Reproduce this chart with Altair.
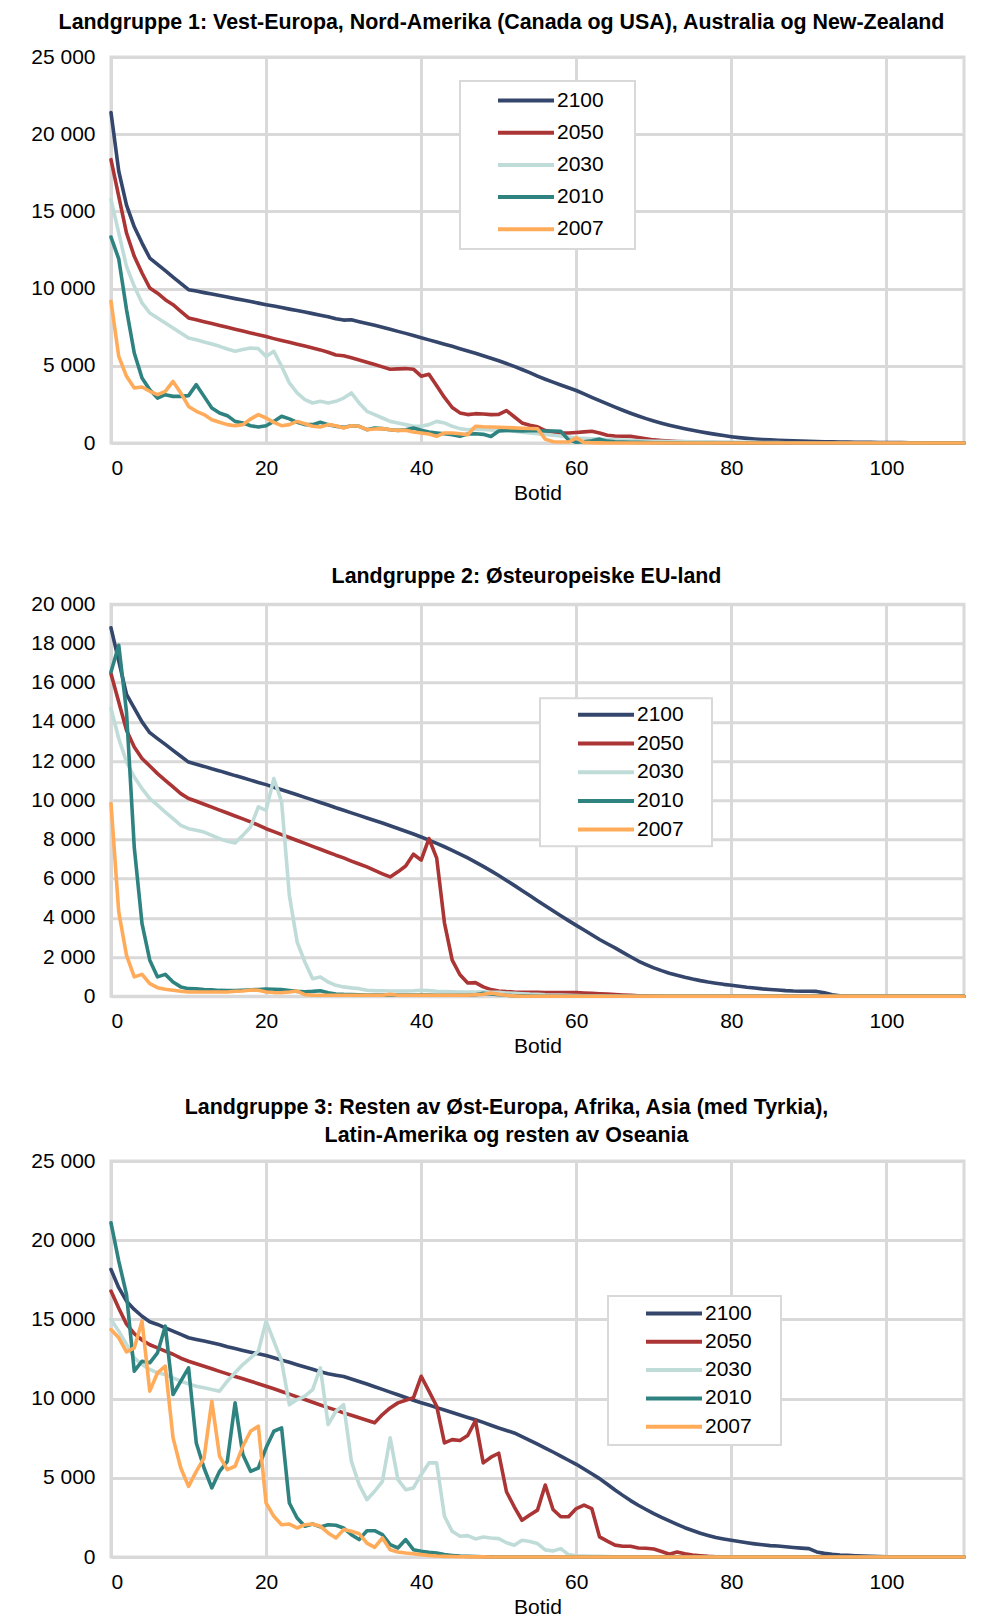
import altair as alt
import pandas as pd

FONT = "Liberation Sans"
SERIES = ["2100", "2050", "2030", "2010", "2007"]
COLORS = ["#34466b", "#ab3535", "#c0dcd9", "#2e8380", "#ffab5a"]
BOTID = list(range(0, 111))

# ---------------- Landgruppe 1 ----------------
p1_2100 = [21400, 17600, 15400, 14000, 12950, 11980, 11570, 11160, 10750, 10340,
           9930, 9840, 9740, 9650, 9550, 9450, 9350, 9260, 9160, 9060,
           8960, 8870, 8770, 8670, 8580, 8480, 8380, 8280, 8180, 8050,
           7960, 7980, 7860, 7740, 7620, 7490, 7360, 7230, 7100, 6960,
           6820, 6680, 6540, 6400, 6260, 6110, 5960, 5810, 5650, 5490,
           5330, 5150, 4960, 4760, 4560, 4330, 4130, 3940, 3760, 3580,
           3400, 3180, 2960, 2740, 2530, 2320, 2120, 1930, 1750, 1580,
           1420, 1280, 1150, 1030, 920, 820, 730, 640, 560, 480,
           410, 350, 300, 260, 230, 200, 180, 160, 140, 120,
           105, 95, 85, 75, 65, 58, 52, 46, 40, 36,
           32, 28, 24, 20, 16, 12, 10, 8, 6, 4, 2]
p1_2050 = [18350, 15980, 13600, 12090, 11010, 10040, 9700, 9280, 8960, 8530,
           8100, 7980, 7860, 7740, 7610, 7490, 7370, 7250, 7130, 7010,
           6890, 6760, 6640, 6520, 6400, 6280, 6160, 6030, 5880, 5700,
           5650, 5520, 5380, 5230, 5080, 4930, 4780, 4800, 4820, 4780,
           4330, 4450, 3700, 2950, 2300, 1950, 1840, 1900, 1880, 1840,
           1850, 2100, 1700, 1300, 1150, 1050, 800, 720, 650, 650,
           680, 720, 760, 650, 500, 450, 440, 430, 360, 280,
           200, 160, 130, 100, 80, 60, 50, 40, 30, 20,
           15, 10, 8, 6, 4, 2, 0, 0, 0, 0,
           0, 0, 0, 0, 0, 0, 0, 0, 0, 0,
           0, 0, 0, 0, 0, 0, 0, 0, 0, 0, 0]
p1_2030 = [15760, 13600, 11440, 10150, 9070, 8420, 8100, 7770, 7450, 7120,
           6800, 6690, 6540, 6410, 6260, 6090, 5940, 6050, 6150, 6110,
           5610, 5940, 4970, 3890, 3240, 2810, 2590, 2700, 2590, 2700,
           2910, 3240, 2590, 2050, 1840, 1620, 1400, 1300, 1190, 1080,
           1080, 1190, 1400, 1300, 1080, 930, 860, 900, 880, 850,
           820, 800, 760, 700, 650, 600, 560, 500, 450, 380,
           320, 300, 280, 250, 230, 210, 190, 170, 150, 130,
           110, 105, 100, 95, 90, 80, 75, 70, 65, 60,
           55, 50, 45, 40, 35, 30, 25, 20, 15, 10,
           5, 0, 0, 0, 0, 0, 0, 0, 0, 0,
           0, 0, 0, 0, 0, 0, 0, 0, 0, 0, 0]
p1_2010 = [13340, 11920, 8640, 5830, 4210, 3450, 2910, 3130, 3020, 3020,
           3070, 3780, 3020, 2270, 1940, 1770, 1400, 1300, 1120, 1040,
           1120, 1400, 1730, 1560, 1340, 1190, 1190, 1340, 1190, 1080,
           1010, 1120, 1080, 860, 970, 930, 860, 820, 860, 970,
           820, 710, 650, 600, 540, 430, 580, 600, 560, 420,
           780, 820, 800, 780, 800, 790, 780, 780, 760, 200,
           50, 80, 150, 250, 120, 80, 60, 50, 40, 30,
           20, 15, 10, 5, 0, 0, 0, 0, 0, 0,
           0, 0, 0, 0, 0, 0, 0, 0, 0, 0,
           0, 0, 0, 0, 0, 0, 0, 0, 0, 0,
           0, 0, 0, 0, 0, 0, 0, 0, 0, 0, 0]
p1_2007 = [9180, 5610, 4320, 3560, 3630, 3350, 3130, 3350, 3990, 3240,
           2370, 2050, 1840, 1510, 1340, 1190, 1120, 1190, 1550, 1840,
           1620, 1340, 1120, 1190, 1400, 1250, 1080, 1040, 1190, 1120,
           970, 1120, 1080, 860, 910, 930, 860, 820, 820, 710,
           650, 580, 430, 650, 650, 600, 540, 1080, 1050, 1040,
           1020, 1000, 980, 960, 940, 920, 250, 80, 60, 60,
           330, 40, 20, 10, 0, 0, 0, 0, 0, 0,
           0, 0, 0, 0, 0, 0, 0, 0, 0, 0,
           0, 0, 0, 0, 0, 0, 0, 0, 0, 0,
           0, 0, 0, 0, 0, 0, 0, 0, 0, 0,
           0, 0, 0, 0, 0, 0, 0, 0, 0, 0, 0]

# ---------------- Landgruppe 2 ----------------
p2_2100 = [18800, 17100, 15400, 14700, 14000, 13450, 13150, 12850, 12550, 12250,
           11950, 11840, 11730, 11610, 11500, 11380, 11260, 11150, 11030, 10910,
           10800, 10670, 10540, 10410, 10280, 10150, 10020, 9890, 9760, 9620,
           9490, 9360, 9230, 9100, 8970, 8840, 8700, 8560, 8420, 8280,
           8130, 7970, 7800, 7630, 7450, 7260, 7060, 6850, 6630, 6400,
           6160, 5910, 5660, 5400, 5140, 4880, 4620, 4360, 4110, 3860,
           3620, 3380, 3140, 2900, 2680, 2470, 2240, 2020, 1800, 1620,
           1450, 1310, 1180, 1070, 970, 880, 800, 730, 670, 610,
           560, 510, 460, 420, 380, 350, 320, 290, 270, 260,
           255, 250, 180, 80, 30, 10, 0, 0, 0, 0,
           0, 0, 0, 0, 0, 0, 0, 0, 0, 0, 0]
p2_2050 = [16460, 15020, 13570, 12720, 12130, 11750, 11360, 11020, 10680, 10340,
           10090, 9950, 9800, 9650, 9500, 9350, 9200, 9050, 8900, 8730,
           8550, 8400, 8250, 8100, 7950, 7800, 7650, 7500, 7350, 7200,
           7060, 6900, 6750, 6600, 6420, 6250, 6090, 6350, 6650, 7250,
           6950, 8050, 7050, 3750, 1850, 1100, 680, 700, 480, 340,
           270, 240, 220, 210, 200, 200, 195, 190, 190, 190,
           190, 170, 150, 130, 110, 90, 70, 50, 30, 20,
           10, 0, 0, 0, 0, 0, 0, 0, 0, 0,
           0, 0, 0, 0, 0, 0, 0, 0, 0, 0,
           0, 0, 0, 0, 0, 0, 0, 0, 0, 0,
           0, 0, 0, 0, 0, 0, 0, 0, 0, 0, 0]
p2_2030 = [14680, 13150, 11960, 11190, 10600, 10090, 9750, 9400, 9060, 8720,
           8550, 8470, 8380, 8210, 8040, 7910, 7820, 8210, 8640, 9660,
           9490, 11110, 9920, 5150, 2770, 1750, 900, 990, 730, 560,
           480, 430, 390, 310, 290, 280, 270, 270, 270, 280,
           310, 290, 255, 240, 230, 220, 220, 220, 230, 200,
           200, 170, 150, 130, 110, 100, 80, 70, 60, 50,
           40, 30, 25, 20, 15, 10, 5, 0, 0, 0,
           0, 0, 0, 0, 0, 0, 0, 0, 0, 0,
           0, 0, 0, 0, 0, 0, 0, 0, 0, 0,
           0, 0, 0, 0, 0, 0, 0, 0, 0, 0,
           0, 0, 0, 0, 0, 0, 0, 0, 0, 0, 0]
p2_2010 = [16550, 17910, 14500, 7600, 3710, 1840, 990, 1120, 730, 480,
           390, 380, 350, 330, 300, 290, 290, 310, 330, 350,
           370, 360, 340, 300, 250, 230, 250, 280, 180, 120,
           100, 90, 80, 70, 60, 60, 60, 60, 60, 60,
           60, 60, 50, 50, 50, 50, 50, 80, 150, 120,
           80, 50, 30, 20, 10, 0, 0, 0, 0, 0,
           0, 0, 0, 0, 0, 0, 0, 0, 0, 0,
           0, 0, 0, 0, 0, 0, 0, 0, 0, 0,
           0, 0, 0, 0, 0, 0, 0, 0, 0, 0,
           0, 0, 0, 0, 0, 0, 0, 0, 0, 0,
           0, 0, 0, 0, 0, 0, 0, 0, 0, 0, 0]
p2_2007 = [9830, 4300, 2090, 990, 1120, 650, 440, 360, 310, 260,
           220, 220, 220, 220, 220, 220, 255, 270, 320, 310,
           220, 190, 180, 220, 270, 85, 50, 50, 50, 50,
           50, 50, 50, 50, 50, 50, 100, 50, 50, 50,
           50, 50, 50, 50, 50, 50, 50, 80, 100, 170,
           100, 50, 20, 0, 0, 0, 0, 0, 0, 0,
           0, 0, 0, 0, 0, 0, 0, 0, 0, 0,
           0, 0, 0, 0, 0, 0, 0, 0, 0, 0,
           0, 0, 0, 0, 0, 0, 0, 0, 0, 0,
           0, 0, 0, 0, 0, 0, 0, 0, 0, 0,
           0, 0, 0, 0, 0, 0, 0, 0, 0, 0, 0]

# ---------------- Landgruppe 3 ----------------
p3_2100 = [18150, 17000, 16150, 15630, 15200, 14850, 14680, 14470, 14260, 14050,
           13840, 13730, 13630, 13520, 13420, 13270, 13160, 13040, 12930, 12830,
           12720, 12580, 12430, 12290, 12140, 11990, 11850, 11700, 11570, 11480,
           11400, 11240, 11080, 10920, 10750, 10580, 10410, 10240, 10070, 9900,
           9740, 9590, 9430, 9280, 9120, 8970, 8810, 8660, 8500, 8320,
           8140, 7990, 7830, 7600, 7360, 7120, 6880, 6630, 6370, 6110,
           5850, 5550, 5250, 4950, 4590, 4230, 3890, 3560, 3270, 3000,
           2740, 2500, 2280, 2060, 1850, 1670, 1500, 1360, 1230, 1140,
           1060, 980, 900, 830, 770, 720, 690, 650, 600, 560,
           530, 320, 230, 170, 130, 105, 80, 60, 40, 25,
           15, 10, 5, 0, 0, 0, 0, 0, 0, 0, 0]
p3_2050 = [16790, 15700, 14700, 14100, 13700, 13400, 13200, 13000, 12800, 12550,
           12360, 12200, 12040, 11880, 11720, 11560, 11400, 11250, 11100, 10940,
           10780, 10620, 10450, 10280, 10110, 9940, 9770, 9600, 9430, 9270,
           9100, 8950, 8790, 8630, 8470, 8990, 9410, 9730, 9900, 10050,
           11410, 10470, 9520, 7200, 7410, 7350, 7670, 8610, 5940, 6300,
           6550, 4120, 3170, 2320, 2650, 2960, 4540, 3000, 2540, 2540,
           3060, 3280, 3060, 1270, 1000, 750, 680, 680, 570, 550,
           500, 350, 170, 320, 200, 130, 80, 40, 20, 10,
           0, 0, 0, 0, 0, 0, 0, 0, 0, 0,
           0, 0, 0, 0, 0, 0, 0, 0, 0, 0,
           0, 0, 0, 0, 0, 0, 0, 0, 0, 0, 0]
p3_2030 = [15000, 14260, 13420, 12570, 12150, 11840, 11630, 11520, 11310, 11100,
           10930, 10780, 10680, 10570, 10470, 11100, 11630, 12150, 12570, 12990,
           14890, 13630, 12360, 9620, 9940, 10150, 10570, 11940, 8360, 9200,
           9620, 6040, 4570, 3620, 4150, 4780, 7520, 4890, 4250, 4360,
           5200, 5940, 5940, 2570, 1620, 1310, 1350, 1140, 1260, 1200,
           1160, 900, 740, 1060, 980, 850, 450, 380, 530, 150,
           80, 60, 50, 40, 30, 20, 10, 0, 0, 0,
           0, 0, 0, 0, 0, 0, 0, 0, 0, 0,
           0, 0, 0, 0, 0, 0, 0, 0, 0, 0,
           0, 0, 0, 0, 0, 0, 0, 0, 0, 0,
           0, 0, 0, 0, 0, 0, 0, 0, 0, 0, 0]
p3_2010 = [21100, 18680, 16570, 11730, 12360, 12260, 12890, 14570, 10260, 11100,
           11940, 7200, 5620, 4360, 5410, 6040, 9730, 6470, 5410, 5620,
           6890, 7940, 8150, 3410, 2460, 1940, 2080, 1900, 2040, 2000,
           1830, 1410, 1100, 1660, 1660, 1410, 780, 570, 1100, 460,
           360, 290, 250, 150, 100, 60, 40, 30, 20, 10,
           0, 0, 0, 0, 0, 0, 0, 0, 0, 0,
           0, 0, 0, 0, 0, 0, 0, 0, 0, 0,
           0, 0, 0, 0, 0, 0, 0, 0, 0, 0,
           0, 0, 0, 0, 0, 0, 0, 0, 0, 0,
           0, 0, 0, 0, 0, 0, 0, 0, 0, 0,
           0, 0, 0, 0, 0, 0, 0, 0, 0, 0, 0]
p3_2007 = [14360, 13840, 12950, 13200, 14890, 10470, 11630, 12050, 7520, 5620,
           4460, 5410, 6250, 9830, 6360, 5520, 5730, 6990, 7940, 8260,
           3410, 2570, 2040, 2080, 1830, 2040, 2080, 1940, 1520, 1200,
           1730, 1620, 1470, 880, 610, 1200, 460, 320, 250, 210,
           150, 100, 60, 40, 30, 20, 15, 10, 5, 0,
           0, 0, 0, 0, 0, 0, 0, 0, 0, 0,
           0, 0, 0, 0, 0, 0, 0, 0, 0, 0,
           0, 0, 0, 0, 0, 0, 0, 0, 0, 0,
           0, 0, 0, 0, 0, 0, 0, 0, 0, 0,
           0, 0, 0, 0, 0, 0, 0, 0, 0, 0,
           0, 0, 0, 0, 0, 0, 0, 0, 0, 0, 0]

TITLE1 = "Landgruppe 1: Vest-Europa, Nord-Amerika (Canada og USA), Australia og New-Zealand"
TITLE2 = "Landgruppe 2: Østeuropeiske EU-land"
TITLE3 = ["Landgruppe 3: Resten av Øst-Europa, Afrika, Asia (med Tyrkia),",
          "Latin-Amerika og resten av Oseania"]

X_TICKS = [0, 20, 40, 60, 80, 100]


def make_df(series_lists):
    rows = []
    for name, vals in zip(SERIES, series_lists):
        for b, v in zip(BOTID, vals):
            rows.append({"Botid": b, "Antall": v, "Serie": name})
    return pd.DataFrame(rows)


def panel(series_lists, title, ymax, ystep, height, lx, ly, rowpad, lpad, dx, offset):
    df = make_df(series_lists)
    color = alt.Color(
        "Serie:N",
        scale=alt.Scale(domain=SERIES, range=COLORS),
        legend=alt.Legend(
            title="\u00a0", titleOrient="right", titlePadding=22,
            titleFontSize=21, titleFont=FONT,
            orient="none", legendX=lx, legendY=ly,
            symbolType="stroke", symbolSize=3136, symbolStrokeWidth=4,
            clipHeight=21, labelFontSize=21, labelFont=FONT, labelColor="black",
            rowPadding=rowpad, padding=lpad, symbolOffset=36 - lpad, labelOffset=1,
            fillColor="white", strokeColor="#d9d9d9",
        ),
    )
    x = alt.X("Botid:Q", scale=alt.Scale(domain=[0, 110], nice=False),
              axis=alt.Axis(values=X_TICKS, title="Botid", labelPadding=14,
                            titlePadding=4, grid=True, gridColor="#d9d9d9",
                            gridWidth=3, domain=False, ticks=False,
                            labelFont=FONT, labelFontSize=21, labelColor="black",
                            titleFont=FONT, titleFontSize=21, titleColor="black",
                            titleFontWeight="normal"))
    y = alt.Y("Antall:Q", scale=alt.Scale(domain=[0, ymax], nice=False),
              axis=alt.Axis(values=list(range(0, ymax + 1, ystep)), title=None,
                            labelPadding=16, grid=True, gridColor="#d9d9d9",
                            gridWidth=3, domain=False, ticks=False,
                            labelFont=FONT, labelFontSize=21, labelColor="black",
                            labelExpr="replace(format(datum.value, ','), ',', ' ')"))
    layers = []
    for s in SERIES:
        layers.append(
            alt.Chart(df)
            .transform_filter(alt.datum.Serie == s)
            .mark_line(strokeWidth=3.6, strokeJoin="round", strokeCap="round")
            .encode(x=x, y=y, color=color)
        )
    return alt.layer(*layers).properties(
        width=853, height=height,
        title=alt.TitleParams(text=title, fontSize=21.4, font=FONT, fontWeight="bold",
                              color="black", anchor="middle", frame="group",
                              baseline="alphabetic", dx=dx, offset=offset,
                              lineHeight=28),
    )


c1 = panel([p1_2100, p1_2050, p1_2030, p1_2010, p1_2007], TITLE1, 25000, 5000, 386,
           349, 24, 10.2, 9, -36, -4)
c2 = panel([p2_2100, p2_2050, p2_2030, p2_2010, p2_2007], TITLE2, 20000, 2000, 392,
           429, 94, 6.7, 6, -11, -10.6)
c3 = panel([p3_2100, p3_2050, p3_2030, p3_2010, p3_2007], TITLE3, 25000, 5000, 396,
           497, 135, 6.3, 7, -31, -13.4)

top = alt.vconcat(c1, c2, spacing=58.3).resolve_legend(color="independent")
chart = (
    alt.vconcat(top, c3, spacing=37)
    .resolve_legend(color="independent")
    .properties(padding={"left": 21, "top": 2, "right": 10, "bottom": 2},
                background="white")
    .configure_view(stroke="#d9d9d9", strokeWidth=3)
    .configure_legend(strokeWidth=2)
)

chart.save("out.html", embed_options={"renderer": "svg", "actions": False})
